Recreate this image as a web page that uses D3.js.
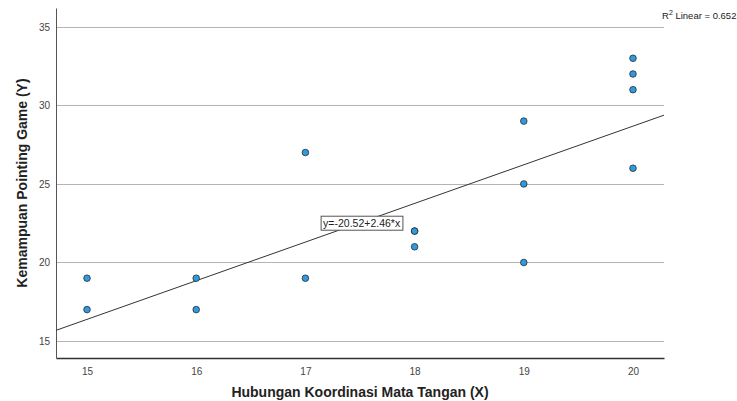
<!DOCTYPE html>
<html>
<head>
<meta charset="utf-8">
<script src="https://cdn.jsdelivr.net/npm/d3@7"></script>
<style>
body{margin:0;background:#fff;}
</style>
</head>
<body>
<div id="chart"></div>
<script>

// data
const xValues=[15,15,16,16,17,17,18,18,18,19,19,19,20,20,20,20];
const yValues=[19,17,19,17,27,19,22,22,21,29,25,20,33,32,31,26];
const xTicks=[15,16,17,18,19,20];
const yTicks=[15,20,25,30,35];
const intercept=-20.52;
const slope=2.46;
const rSquared=0.652;

const width=737;
const height=401;

const svg=d3.select("#chart")
.append("svg")
.attr("width",width)
.attr("height",height)
.style("font-family","'Liberation Sans', Arial, sans-serif");

const plotLeft=56, plotRight=664, plotTop=8, plotBottom=358;

const x=d3.scaleLinear()
.domain([14.716,20.284])
.range([plotLeft,plotRight]);

const y=d3.scaleLinear()
.domain([13.92,36.2])
.range([plotBottom,plotTop]);

// grid
svg.selectAll(".grid")
.data(yTicks)
.enter()
.append("line")
.attr("x1",plotLeft)
.attr("x2",plotRight)
.attr("y1",d=>Math.round(y(d))+0.5)
.attr("y2",d=>Math.round(y(d))+0.5)
.attr("stroke","#b4b4b4")
.attr("stroke-width",1);

// axes
const xAxis=svg.append("g")
.attr("transform","translate(0,"+plotBottom+")")
.call(d3.axisBottom(x).tickValues(xTicks).tickSize(0).tickPadding(10).tickFormat(d3.format("d")));
xAxis.select(".domain").attr("stroke","#333").attr("stroke-width",1.5);

const yAxis=svg.append("g")
.attr("transform","translate("+plotLeft+",0)")
.call(d3.axisLeft(y).tickValues(yTicks).tickSize(0).tickPadding(6).tickFormat(d3.format("d")));
yAxis.select(".domain").attr("stroke","#555").attr("stroke-width",1);

svg.selectAll(".tick text")
.style("font-family","'Liberation Sans', Arial, sans-serif")
.style("font-size","10px")
.attr("fill","#444");

// fit line
const lineX=x.domain();
svg.append("line")
.attr("x1",x(lineX[0]))
.attr("x2",x(lineX[1]))
.attr("y1",y(intercept+slope*lineX[0]))
.attr("y2",y(intercept+slope*lineX[1]))
.attr("stroke","#333")
.attr("stroke-width",1);

// points
svg.selectAll(".punto")
.data(xValues.map((d,i)=>({x:d,y:yValues[i]})))
.enter()
.append("circle")
.attr("cx",d=>x(d.x))
.attr("cy",d=>y(d.y))
.attr("r",3.3)
.attr("fill","#2e9be0")
.attr("stroke","#2b2b2b")
.attr("stroke-width",0.8);

// equation label
const eqX=17.515, eqY=22.5;
const eqG=svg.append("g");
const eqText=eqG.append("text")
.attr("x",x(eqX))
.attr("y",y(eqY)+4)
.attr("text-anchor","middle")
.style("font-size","10.5px")
.attr("fill","#222")
.text("y="+intercept.toFixed(2)+"+"+slope.toFixed(2)+"*x");
const bb=eqText.node().getBBox();
eqG.insert("rect","text")
.attr("x",bb.x-2)
.attr("y",bb.y-1)
.attr("width",bb.width+4)
.attr("height",bb.height+2)
.attr("fill","#fff")
.attr("stroke","#555")
.attr("stroke-width",1);

// R2 label
const r2=svg.append("text")
.attr("x",662)
.attr("y",19)
.style("font-size","9.5px")
.attr("fill","#222");
r2.append("tspan").text("R");
r2.append("tspan").attr("dy",-4).style("font-size","7px").text("2");
r2.append("tspan").attr("dy",4).text(" Linear = "+rSquared.toFixed(3));

// titles
svg.append("text")
.attr("x",360)
.attr("y",397)
.attr("text-anchor","middle")
.style("font-size","14px")
.style("font-weight","bold")
.attr("fill","#222")
.text("Hubungan Koordinasi Mata Tangan (X)");

svg.append("text")
.attr("transform","rotate(-90)")
.attr("x",-183)
.attr("y",27)
.attr("text-anchor","middle")
.style("font-size","14px")
.style("font-weight","bold")
.attr("fill","#222")
.text("Kemampuan Pointing Game (Y)");

</script>
</body>
</html>
